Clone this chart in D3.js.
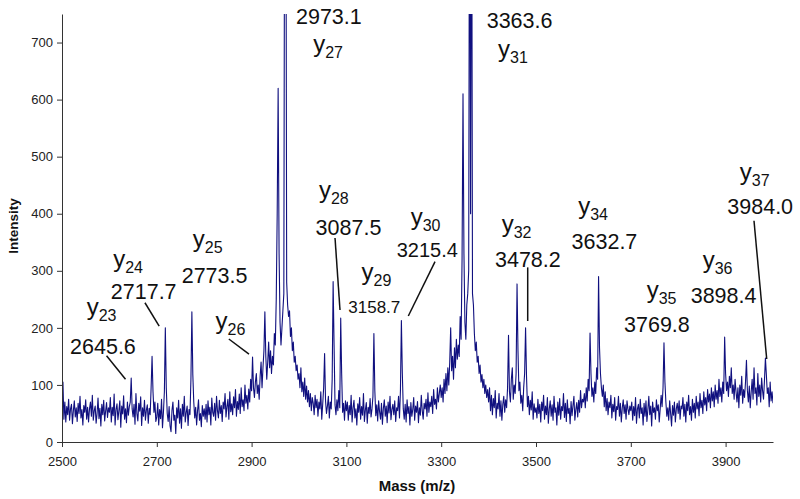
<!DOCTYPE html>
<html><head><meta charset="utf-8">
<script src="https://cdn.jsdelivr.net/npm/d3@7"></script>
<style>body{margin:0;background:#fff}svg{display:block;font-family:"Liberation Sans",Arial,sans-serif}</style>
</head><body><svg id="c" width="800" height="499"></svg>
<script>
// ---- data ----
const massStart = 2500;
const massStep = 2;
const intensity = [
45,105,40,70,35,62,48,75,38,58, 66,32,55,72,44,60,36,68,50,80, 42,57,30,64,52,74,40,61,35,58, 70,45,82,38,55,63,33,50,77,41, 59,28,66,48,73,37,54,69,43,60,
52,78,35,61,46,84,30,57,67,39, 55,72,26,63,49,81,40,58,34,70, 47,62,70,112,58,44,66,31,85,50, 37,68,54,79,29,60,45,73,38,56, 65,33,59,48,95,150,88,52,70,36,
44,68,30,57,41,75,25,52,88,200, 95,50,36,62,28,18,55,70,38,47, 15,60,42,73,33,58,24,66,45,80, 35,52,63,29,57,48,110,228,118,70, 42,61,30,55,74,38,50,27,64,45,
58,40,66,35,72,48,61,30,77,52, 45,68,38,80,55,42,73,50,64,36, 70,58,85,44,62,75,40,88,53,67, 48,79,60,92,45,71,57,84,50,95, 62,74,55,100,68,82,58,93,70,110,
90,149,95,78,105,120,85,100,75,115, 140,95,130,160,228,150,110,140,175,130, 160,120,150,135,190,170,250,400,620,330, 210,170,200,230,260,1200,1200,280,240,220, 230,185,200,160,175,140,150,125,135,110,
120,95,130,88,105,80,112,75,98,70, 90,62,85,55,78,68,48,82,60,75, 45,70,58,88,40,66,95,155,72,50, 63,80,42,70,58,110,281,170,65,48, 74,55,90,60,217,120,52,68,38,72,
55,70,38,64,48,82,35,60,73,42, 58,30,67,52,78,40,62,47,85,36, 56,69,33,61,50,76,44,58,80,190, 90,46,65,37,72,53,40,68,31,59, 74,45,63,34,70,51,80,39,57,66,
48,72,36,60,55,80,42,90,213,120, 58,40,66,35,74,50,62,30,69,45, 57,78,38,63,52,71,34,60,47,82, 55,40,68,58,75,45,86,52,70,62, 80,50,92,66,75,58,95,70,85,100,
78,95,70,110,85,120,90,130,100,140, 200,125,150,110,165,130,180,145,170,150, 220,180,320,610,330,210,180,240,260,300, 1200,400,1200,260,240,190,160,175,140,150, 120,135,105,118,95,110,85,100,78,92,
70,95,55,82,48,76,60,90,42,68, 58,85,45,72,38,66,80,52,74,60, 95,187,88,70,110,130,75,100,85,120, 277,160,90,105,68,82,55,95,120,200, 115,62,80,48,73,56,88,40,67,52,
60,42,75,50,66,35,70,55,82,40, 63,48,78,33,58,72,45,65,38,80, 52,60,30,70,47,76,40,62,55,85, 43,68,36,74,50,59,32,71,46,64, 80,38,57,69,44,73,52,90,60,75,
70,85,60,95,72,110,90,191,120,80, 95,70,105,85,130,110,290,165,120,95, 80,100,62,88,55,76,48,70,60,82, 42,66,53,78,38,62,57,80,45,68, 35,60,74,50,65,40,72,58,48,63,
55,70,38,62,46,78,33,58,66,42, 75,50,60,30,68,45,72,36,57,80, 48,63,28,70,52,60,40,74,55,65, 35,58,82,62,95,174,105,70,45,60, 38,72,50,28,64,47,70,35,58,68,
50,72,40,63,58,78,45,66,35,70, 55,82,48,62,38,75,52,68,42,80, 58,70,46,85,60,73,50,88,65,78, 55,92,70,84,60,95,72,88,62,100, 75,90,68,110,80,95,70,105,85,184,
120,90,105,80,115,95,130,85,100,75, 110,88,70,95,60,100,82,115,68,92, 78,105,143,90,70,98,60,88,110,75, 130,85,95,65,120,80,100,70,112,90, 75,108,147,118,85,95,62,105,72,88,
68
];
const xTicks = [2500, 2700, 2900, 3100, 3300, 3500, 3700, 3900];
const yTicks = [0, 100, 200, 300, 400, 500, 600, 700];
const ionNumbers = ["23","24","25","26","27","28","29","30","31","32","34","35","36","37"];
const ionMasses = ["2645.6","2717.7","2773.5","","2973.1","3087.5","3158.7","3215.4","3363.6","3478.2","3632.7","3769.8","3898.4","3984.0"];

// ---- layout (data coordinates for label anchors) ----
const labelLayout = [
  {y:[2552,222.5], n:[2517,154], line:[[2594,151],[2634,110]]},
  {y:[2608,307],   n:[2603,250], line:[[2675,244],[2705,203]]},
  {y:[2776,342],   n:[2752.5,279]},
  {y:[2824,198],   n:null, line:[[2852,180.5],[2894.5,154]]},
  {y:[3030,683],   n:[2993.7,732]},
  {y:[3042,427.5], n:[3035,362.7], line:[[3076,357.5],[3086.5,231.3]]},
  {y:[3132,284],   n:[3104,226.6], small:17},
  {y:[3235.7,380], n:[3206,323.6], small:20, line:[[3287,316],[3230.6,220.8]]},
  {y:[3420,675],   n:[3396,725]},
  {y:[3427.6,368.5], n:[3413.5,306], line:[[3482.5,306],[3482.5,212]]},
  {y:[3589,399.5], n:[3575,337.7]},
  {y:[3733.5,252.3], n:[3685.7,193.3]},
  {y:[3851.7,305.4], n:[3826.4,244]},
  {y:[3930,459],   n:[3903.6,399], line:[[3959.9,387.8],[3986.7,145.4]]}
];

const svg = d3.select("#c");
const L = 62, R = 773, T = 14, B = 442;
const x = d3.scaleLinear().domain([2500, 4000]).range([L, R]);
const y = d3.scaleLinear().domain([0, 750]).range([B, T]);

svg.append("defs").append("clipPath").attr("id","clip")
  .append("rect").attr("x", L).attr("y", T).attr("width", R - L).attr("height", B - T);

const pts = intensity.map((v, i) => [massStart + i * massStep, v]);
svg.append("path").datum(pts)
  .attr("clip-path","url(#clip)")
  .attr("fill","none").attr("stroke","#10107f").attr("stroke-width",1.1)
  .attr("stroke-linejoin","round")
  .attr("d", d3.line().x(d => x(d[0])).y(d => y(d[1])));

// axes
const xAxis = svg.append("g").attr("transform",`translate(0,${B})`)
  .call(d3.axisBottom(x).tickValues(xTicks).tickSize(5).tickSizeOuter(0).tickFormat(d3.format("d")));
const yAxis = svg.append("g").attr("transform",`translate(${L},0)`)
  .call(d3.axisLeft(y).tickValues(yTicks).tickSize(5).tickSizeOuter(0).tickFormat(d3.format("d")));
[xAxis, yAxis].forEach(g => {
  g.select(".domain").attr("stroke","#333");
  g.selectAll(".tick line").attr("stroke","#333");
  g.selectAll(".tick text").attr("fill","#222").attr("font-size","13px")
    .attr("font-family","'Liberation Sans',Arial,sans-serif");
});
xAxis.selectAll(".tick text").attr("dy","1.2em");
yAxis.selectAll(".tick text").attr("dx","-1px");

svg.append("text").attr("x", 417).attr("y", 491).attr("text-anchor","middle")
  .attr("font-weight","bold").attr("font-size","15px").attr("fill","#111").text("Mass (m/z)");
svg.append("text").attr("transform","translate(18,226) rotate(-90)").attr("text-anchor","middle")
  .attr("font-weight","bold").attr("font-size","13.5px").attr("fill","#111").text("Intensity");

// annotations
const ann = svg.append("g").attr("fill","#111");
labelLayout.forEach((lay, i) => {
  const t = ann.append("text").attr("x", x(lay.y[0])).attr("y", y(lay.y[1])).attr("font-size","24px");
  t.append("tspan").text("y");
  t.append("tspan").attr("font-size","16px").attr("dy","6").text(ionNumbers[i]);
  if (lay.n && ionMasses[i]) {
    ann.append("text").attr("x", x(lay.n[0])).attr("y", y(lay.n[1]))
      .attr("font-size", (lay.small || 21.5) + "px").text(ionMasses[i]);
  }
  if (lay.line) {
    ann.append("line")
      .attr("x1", x(lay.line[0][0])).attr("y1", y(lay.line[0][1]))
      .attr("x2", x(lay.line[1][0])).attr("y2", y(lay.line[1][1]))
      .attr("stroke","#111").attr("stroke-width",1.5);
  }
});
</script></body></html>
